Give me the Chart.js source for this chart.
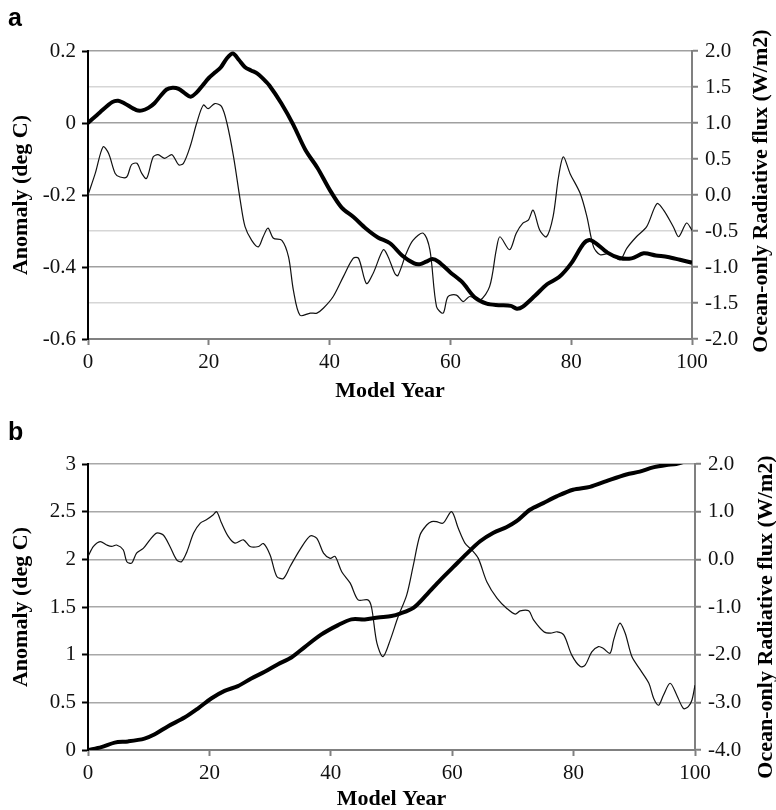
<!DOCTYPE html>
<html>
<head>
<meta charset="utf-8">
<script src="https://cdn.jsdelivr.net/npm/chart.js@4.4.0/dist/chart.umd.min.js"></script>
<style>
  body { margin: 0; background: #fff; width: 776px; height: 810px; position: relative; overflow: hidden; }
  .panel { position: absolute; left: 0; width: 776px; height: 405px; }
  .tag { position: absolute; left: 8px; font: bold 25px 'Liberation Sans', Arial, sans-serif; line-height: 25px; color: #000; }
</style>
</head>
<body>
<div class="panel" style="top:0"><canvas id="chartA" width="776" height="405"></canvas></div>
<div class="panel" style="top:405px"><canvas id="chartB" width="776" height="405"></canvas></div>
<div class="tag" style="top:5px">a</div>
<div class="tag" style="top:419px">b</div>
<script>
// panel a - anomaly (left axis, thick line)
const yearsA1 = [0, 2, 4, 5, 6, 8, 9, 10, 11, 12, 13, 14, 15, 16, 17, 18, 19, 20, 21, 22, 23, 24, 25, 26, 27, 28, 29, 30, 32, 34, 36, 38, 40, 42, 44, 46, 48, 50, 52, 54, 55, 56, 57, 58, 60, 62, 64, 66, 68, 70, 71, 72, 74, 76, 78, 80, 82, 83, 84, 86, 88, 90, 92, 94, 96, 98, 100];
const anomalyA = [0.0, 0.03, 0.058, 0.062, 0.055, 0.036, 0.035, 0.042, 0.055, 0.075, 0.093, 0.098, 0.095, 0.083, 0.073, 0.085, 0.105, 0.125, 0.14, 0.155, 0.18, 0.193, 0.175, 0.155, 0.146, 0.138, 0.123, 0.105, 0.055, -0.005, -0.075, -0.125, -0.185, -0.235, -0.262, -0.293, -0.318, -0.334, -0.368, -0.39, -0.392, -0.385, -0.378, -0.385, -0.415, -0.443, -0.484, -0.502, -0.506, -0.508, -0.516, -0.51, -0.48, -0.448, -0.428, -0.39, -0.336, -0.325, -0.333, -0.36, -0.375, -0.376, -0.362, -0.368, -0.372, -0.38, -0.388];

// panel a - radiative flux (right axis, thin line)
const yearsA2 = [0, 1.2, 2.5, 3.4, 4.5, 5.3, 6.4, 7.2, 8.1, 8.9, 9.7, 10.8, 11.6, 12.7, 13.9, 15.0, 15.8, 16.9, 18.0, 19.1, 19.9, 21.0, 22.1, 23.0, 24.1, 25.2, 26.0, 27.1, 28.2, 29.0, 29.8, 30.7, 32.1, 33.2, 34.0, 35.1, 36.8, 37.9, 39.0, 40.6, 42.3, 43.9, 44.8, 46.1, 47.2, 48.9, 49.7, 50.8, 51.3, 52.7, 53.8, 55.5, 56.6, 57.7, 58.8, 59.6, 61.0, 62.1, 63.2, 64.9, 66.5, 67.6, 68.2, 69.8, 70.9, 72.0, 72.9, 73.7, 74.8, 75.9, 77.0, 77.9, 78.7, 79.8, 81.5, 82.6, 83.7, 84.8, 86.4, 88.1, 89.2, 90.8, 92.5, 94.2, 95.3, 96.9, 97.8, 99.1, 100];
const fluxA = [0.0, 0.3, 0.67, 0.58, 0.3, 0.25, 0.25, 0.42, 0.44, 0.3, 0.23, 0.53, 0.56, 0.51, 0.56, 0.42, 0.44, 0.67, 1.0, 1.25, 1.2, 1.27, 1.23, 1.0, 0.53, -0.07, -0.44, -0.63, -0.72, -0.58, -0.46, -0.6, -0.63, -0.86, -1.32, -1.67, -1.64, -1.64, -1.57, -1.41, -1.13, -0.88, -0.88, -1.23, -1.09, -0.76, -0.86, -1.09, -1.12, -0.81, -0.63, -0.53, -0.76, -1.55, -1.64, -1.41, -1.39, -1.48, -1.41, -1.46, -1.27, -0.76, -0.58, -0.76, -0.53, -0.39, -0.35, -0.21, -0.49, -0.58, -0.3, 0.25, 0.53, 0.3, 0.02, -0.3, -0.72, -0.83, -0.81, -0.9, -0.74, -0.58, -0.44, -0.12, -0.21, -0.44, -0.58, -0.39, -0.49];

// panel b - anomaly (left axis, thick line)
const yearsB1 = [0, 2.2, 4.4, 6.6, 9.3, 11.0, 13.2, 15.9, 18.1, 20.3, 22.5, 24.7, 26.9, 29.1, 31.3, 33.5, 35.7, 38.4, 41.2, 43.4, 45.6, 47.8, 50.0, 51.4, 53.6, 55.8, 58.0, 60.2, 62.4, 64.6, 66.8, 69.0, 70.6, 72.8, 75.0, 77.2, 79.9, 82.7, 85.4, 88.7, 90.9, 93.1, 95.3, 96.9, 98.5, 100];
const anomalyB = [0.0, 0.03, 0.077, 0.09, 0.12, 0.165, 0.25, 0.34, 0.435, 0.54, 0.62, 0.67, 0.75, 0.82, 0.9, 0.97, 1.08, 1.21, 1.31, 1.37, 1.37, 1.39, 1.405, 1.43, 1.49, 1.63, 1.78, 1.92, 2.06, 2.19, 2.28, 2.34, 2.4, 2.52, 2.59, 2.66, 2.73, 2.76, 2.82, 2.89, 2.92, 2.965, 2.99, 3.0, 3.03, 3.06];

// panel b - radiative flux (right axis, thin line)
const yearsB2 = [0, 0.9, 2.0, 3.1, 3.9, 4.7, 5.8, 6.4, 7.2, 8.0, 9.1, 10.2, 11.3, 12.4, 13.5, 14.6, 15.4, 16.3, 17.4, 18.5, 19.5, 20.6, 21.2, 22.0, 23.1, 24.2, 25.6, 26.7, 28.1, 28.9, 30.0, 31.1, 32.2, 33.3, 34.9, 36.6, 37.7, 38.8, 39.9, 40.7, 41.8, 43.2, 44.5, 46.1, 46.7, 47.6, 48.6, 49.8, 51.1, 52.5, 53.6, 54.7, 55.8, 56.6, 57.4, 58.5, 59.9, 61.0, 62.1, 63.2, 64.3, 65.7, 67.4, 69.0, 70.4, 71.2, 72.6, 73.4, 75.1, 76.2, 77.3, 78.4, 79.7, 81.1, 81.9, 83.0, 84.1, 84.9, 86.0, 86.6, 87.6, 88.5, 89.6, 91.0, 92.4, 93.2, 94.0, 94.8, 95.9, 97.0, 98.1, 98.9, 99.5, 100];
const fluxB = [0.06, 0.27, 0.37, 0.3, 0.27, 0.3, 0.2, -0.05, -0.08, 0.13, 0.23, 0.41, 0.55, 0.51, 0.27, -0.01, -0.05, 0.16, 0.55, 0.76, 0.83, 0.93, 1.0, 0.76, 0.48, 0.34, 0.41, 0.27, 0.27, 0.33, 0.09, -0.36, -0.4, -0.15, 0.2, 0.49, 0.44, 0.13, 0.02, 0.06, -0.26, -0.5, -0.85, -0.85, -1.0, -1.76, -2.04, -1.69, -1.2, -0.75, -0.12, 0.51, 0.72, 0.79, 0.79, 0.76, 1.0, 0.65, 0.34, 0.2, 0.02, -0.47, -0.82, -1.03, -1.15, -1.08, -1.08, -1.27, -1.52, -1.55, -1.52, -1.59, -2.01, -2.25, -2.22, -1.94, -1.83, -1.87, -1.97, -1.69, -1.34, -1.55, -2.04, -2.32, -2.6, -2.92, -3.06, -2.85, -2.6, -2.85, -3.13, -3.09, -2.95, -2.64];

const xTicks = [0, 20, 40, 60, 80, 100];

const serif = "'Liberation Serif', 'Times New Roman', serif";
const tickFont = { family: serif, size: 21 };
const titleFont = { family: serif, size: 22, weight: 'bold' };

function pts(xs, ys) {
  return xs.map((x, i) => ({ x: x, y: ys[i] }));
}

// right axis title reads bottom-to-top like the left one
const rightTitle = {
  id: 'rightTitle',
  afterDraw(chart, args, opts) {
    const ctx = chart.ctx;
    ctx.save();
    ctx.translate(opts.x, opts.y);
    ctx.rotate(-Math.PI / 2);
    ctx.font = 'bold 22px ' + serif;
    ctx.fillStyle = '#000';
    ctx.textAlign = 'center';
    ctx.textBaseline = 'middle';
    ctx.fillText(opts.text, 0, 0);
    ctx.restore();
  }
};

function makeChart(id, cfg) {
  return new Chart(document.getElementById(id), {
    type: 'line',
    data: {
      datasets: [
        {
          data: pts(cfg.yearsT, cfg.thick),
          yAxisID: 'y',
          borderColor: '#000',
          borderWidth: 4,
          pointRadius: 0,
          tension: 0.3
        },
        {
          data: pts(cfg.yearsF, cfg.flux),
          yAxisID: 'y2',
          borderColor: '#111',
          borderWidth: 1.2,
          pointRadius: 0,
          tension: 0.3
        }
      ]
    },
    options: {
      responsive: false,
      animation: false,
      devicePixelRatio: 1,
      layout: { padding: { top: cfg.top, left: 0, right: 0, bottom: 0 } },
      plugins: {
        legend: { display: false },
        tooltip: { enabled: false },
        rightTitle: { text: 'Ocean-only Radiative flux (W/m2)', x: cfg.rtX, y: cfg.rtY }
      },
      scales: {
        x: {
          type: 'linear',
          min: 0,
          max: 100,
          afterBuildTicks: s => { s.ticks = xTicks.map(v => ({ value: v })); },
          ticks: { font: tickFont, color: '#111', padding: 5, maxRotation: 0 },
          grid: { drawOnChartArea: false, tickLength: 6, tickColor: '#808080', tickWidth: 2 },
          border: { color: '#808080', width: 2 },
          title: { display: true, text: 'Model Year', font: titleFont, color: '#000', padding: { top: 0, bottom: cfg.xtPad } },
          afterFit: s => { s.height = cfg.xH; }
        },
        y: {
          position: 'left',
          min: cfg.yMin,
          max: cfg.yMax,
          ticks: {
            stepSize: cfg.yStep,
            font: tickFont,
            color: '#111',
            padding: 6,
            callback: v => Math.abs(v) < 1e-9 ? '0' : String(+v.toFixed(1))
          },
          grid: { drawOnChartArea: false, tickLength: 6, tickColor: '#000', tickWidth: 2 },
          border: { color: '#000', width: 2 },
          title: { display: true, text: 'Anomaly (deg C)', font: titleFont, color: '#000', padding: { top: 8, bottom: 0 } },
          afterFit: s => { s.width = 88; }
        },
        y2: {
          position: 'right',
          min: cfg.rMin,
          max: cfg.rMax,
          ticks: {
            stepSize: cfg.rStep,
            font: tickFont,
            color: '#111',
            padding: 7,
            callback: v => v.toFixed(1)
          },
          grid: {
            drawOnChartArea: true,
            color: cfg.gridColor,
            lineWidth: 1.5,
            tickLength: 6,
            tickColor: '#808080',
            tickWidth: 2
          },
          border: { color: '#808080', width: 2 },
          afterFit: s => { s.width = cfg.rW; }
        }
      }
    },
    plugins: [rightTitle]
  });
}

makeChart('chartA', {
  yearsT: yearsA1, thick: anomalyA, yearsF: yearsA2, flux: fluxA,
  top: 51, xH: 66, xtPad: 0, rW: 84,
  yMin: -0.6, yMax: 0.2, yStep: 0.2,
  rMin: -2, rMax: 2, rStep: 0.5,
  gridColor: c => Math.abs(c.tick.value - Math.round(c.tick.value)) < 1e-6 ? '#a0a0a0' : '#d6d6d6',
  rtX: 761, rtY: 191
});

makeChart('chartB', {
  yearsT: yearsB1, thick: anomalyB, yearsF: yearsB2, flux: fluxB,
  top: 59, xH: 60, xtPad: -3, rW: 81,
  yMin: 0, yMax: 3, yStep: 0.5,
  rMin: -4, rMax: 2, rStep: 1,
  gridColor: '#a8a8a8',
  rtX: 766, rtY: 212
});
</script>
</body>
</html>
